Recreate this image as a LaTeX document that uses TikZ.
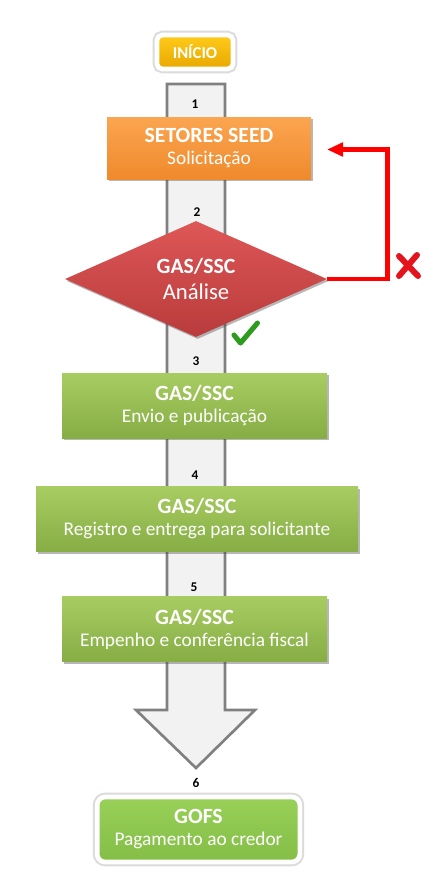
\documentclass[tikz,border=0pt]{standalone}
\usepackage{fontspec}
\setmainfont{Carlito}
\usetikzlibrary{shapes.geometric,shadows,arrows.meta}
\definecolor{arrowfill}{HTML}{F2F2F2}
\definecolor{arrowline}{HTML}{808080}
\definecolor{goldtop}{HTML}{FFCB1A}
\definecolor{goldbot}{HTML}{E8A800}
\definecolor{orangetop}{HTML}{FBA550}
\definecolor{orangebot}{HTML}{EF8A2C}
\definecolor{redtop}{HTML}{DE5757}
\definecolor{redbot}{HTML}{B93B3B}
\definecolor{greentop}{HTML}{A7CC62}
\definecolor{greenbot}{HTML}{86AE44}
\definecolor{gofstop}{HTML}{98D058}
\definecolor{gofsbot}{HTML}{84BE46}
\definecolor{linkred}{HTML}{FF0000}
\definecolor{checkgreen}{HTML}{2E9A1E}
\definecolor{xred}{HTML}{E3141E}
\newcommand{\ttl}{\bfseries\fontsize{16.3}{16.5}\selectfont}
\begin{document}
\begin{tikzpicture}[x=0.75pt,y=-0.75pt,
  boxshadow/.style={drop shadow={shadow xshift=1.2pt,shadow yshift=-1.5pt,opacity=0.4,fill=black!70}},
  halo/.style={preaction={draw=black!14,line width=6.5pt},
    drop shadow={shadow xshift=0pt,shadow yshift=-1.5pt,opacity=0.12}},
  stepbox/.style={rectangle,draw=none,text=white,align=center,inner sep=0pt,boxshadow,
    font=\fontsize{14.5}{16.5}\selectfont},
  greenbox/.style={stepbox,top color=greentop,bottom color=greenbot,minimum height=48.75pt},
  numlabel/.style={font=\bfseries\fontsize{10}{11}\selectfont,text=black,inner sep=0pt},
  redlink/.style={draw=linkred,line width=3.6pt,-{Triangle[length=12pt,width=10pt]}}]
\useasboundingbox (0,0) rectangle (437,893);
% big background arrow
\draw[fill=arrowfill,draw=arrowline,line width=2pt,line join=miter]
  (167,84) -- (225,84) -- (225,710) -- (255,710) -- (196,768) -- (136,710) -- (167,710) -- cycle;
% numbers
\node[numlabel] (n1) at (195,104) {1};
\node[numlabel] (n2) at (197,212) {2};
\node[numlabel] (n3) at (196,361) {3};
\node[numlabel] (n4) at (195,475) {4};
\node[numlabel] (n5) at (194,587) {5};
\node[numlabel] (n6) at (196,783) {6};
% start
\node[rectangle,rounded corners=4pt,draw=white,line width=3.5pt,top color=goldtop,bottom color=goldbot,
  text=white,font=\bfseries\fontsize{12.5}{14}\selectfont,minimum width=57pt,minimum height=25.5pt,inner sep=0pt,
  halo] (inicio) at (195,52) {INÍCIO};
% step 1
\node[stepbox,top color=orangetop,bottom color=orangebot,minimum width=153pt,minimum height=46.5pt] (sol) at (209,148)
  {{\ttl SETORES SEED}\\Solicitação};
% decision
\node[diamond,draw=none,top color=redtop,bottom color=redbot,text=white,align=center,inner sep=0pt,
  font=\fontsize{17}{19}\selectfont,
  aspect=2.26,minimum width=196.5pt,minimum height=87pt,boxshadow] (dec) at (196,279)
  {{\ttl GAS/SSC}\\Análise};
% steps
\node[greenbox,minimum width=198.75pt] (env) at (194.5,405.5)
  {{\ttl GAS/SSC}\\Envio e publicação};
\node[greenbox,minimum width=241.5pt] (reg) at (197,519)
  {{\ttl GAS/SSC}\\Registro e entrega para solicitante};
\node[greenbox,minimum width=198.75pt] (emp) at (194.5,629)
  {{\ttl GAS/SSC}\\Empenho e conferência fiscal};
% end
\node[rectangle,rounded corners=6pt,draw=white,line width=3.5pt,top color=gofstop,bottom color=gofsbot,
  text=white,align=center,minimum width=152pt,minimum height=48.75pt,inner sep=0pt,
  font=\fontsize{14.5}{16.5}\selectfont,halo] (gofs) at (198.5,829.5)
  {{\ttl GOFS}\\Pagamento ao credor};
% rejection loop
\coordinate (loopr) at (387.5,279);
\coordinate (tip) at (327,149.5);
\draw[redlink] (dec.east) -- (loopr) |- (tip);
% check and cross marks
\draw[checkgreen,line width=3.8pt,line cap=round,line join=round] (234,335) -- (240.5,343) -- (257.5,323);
\draw[xred,line width=4.5pt,line cap=round] (399,256) -- (418,276);
\draw[xred,line width=4.5pt,line cap=round] (417,255) -- (399,276);
\end{tikzpicture}
\end{document}
